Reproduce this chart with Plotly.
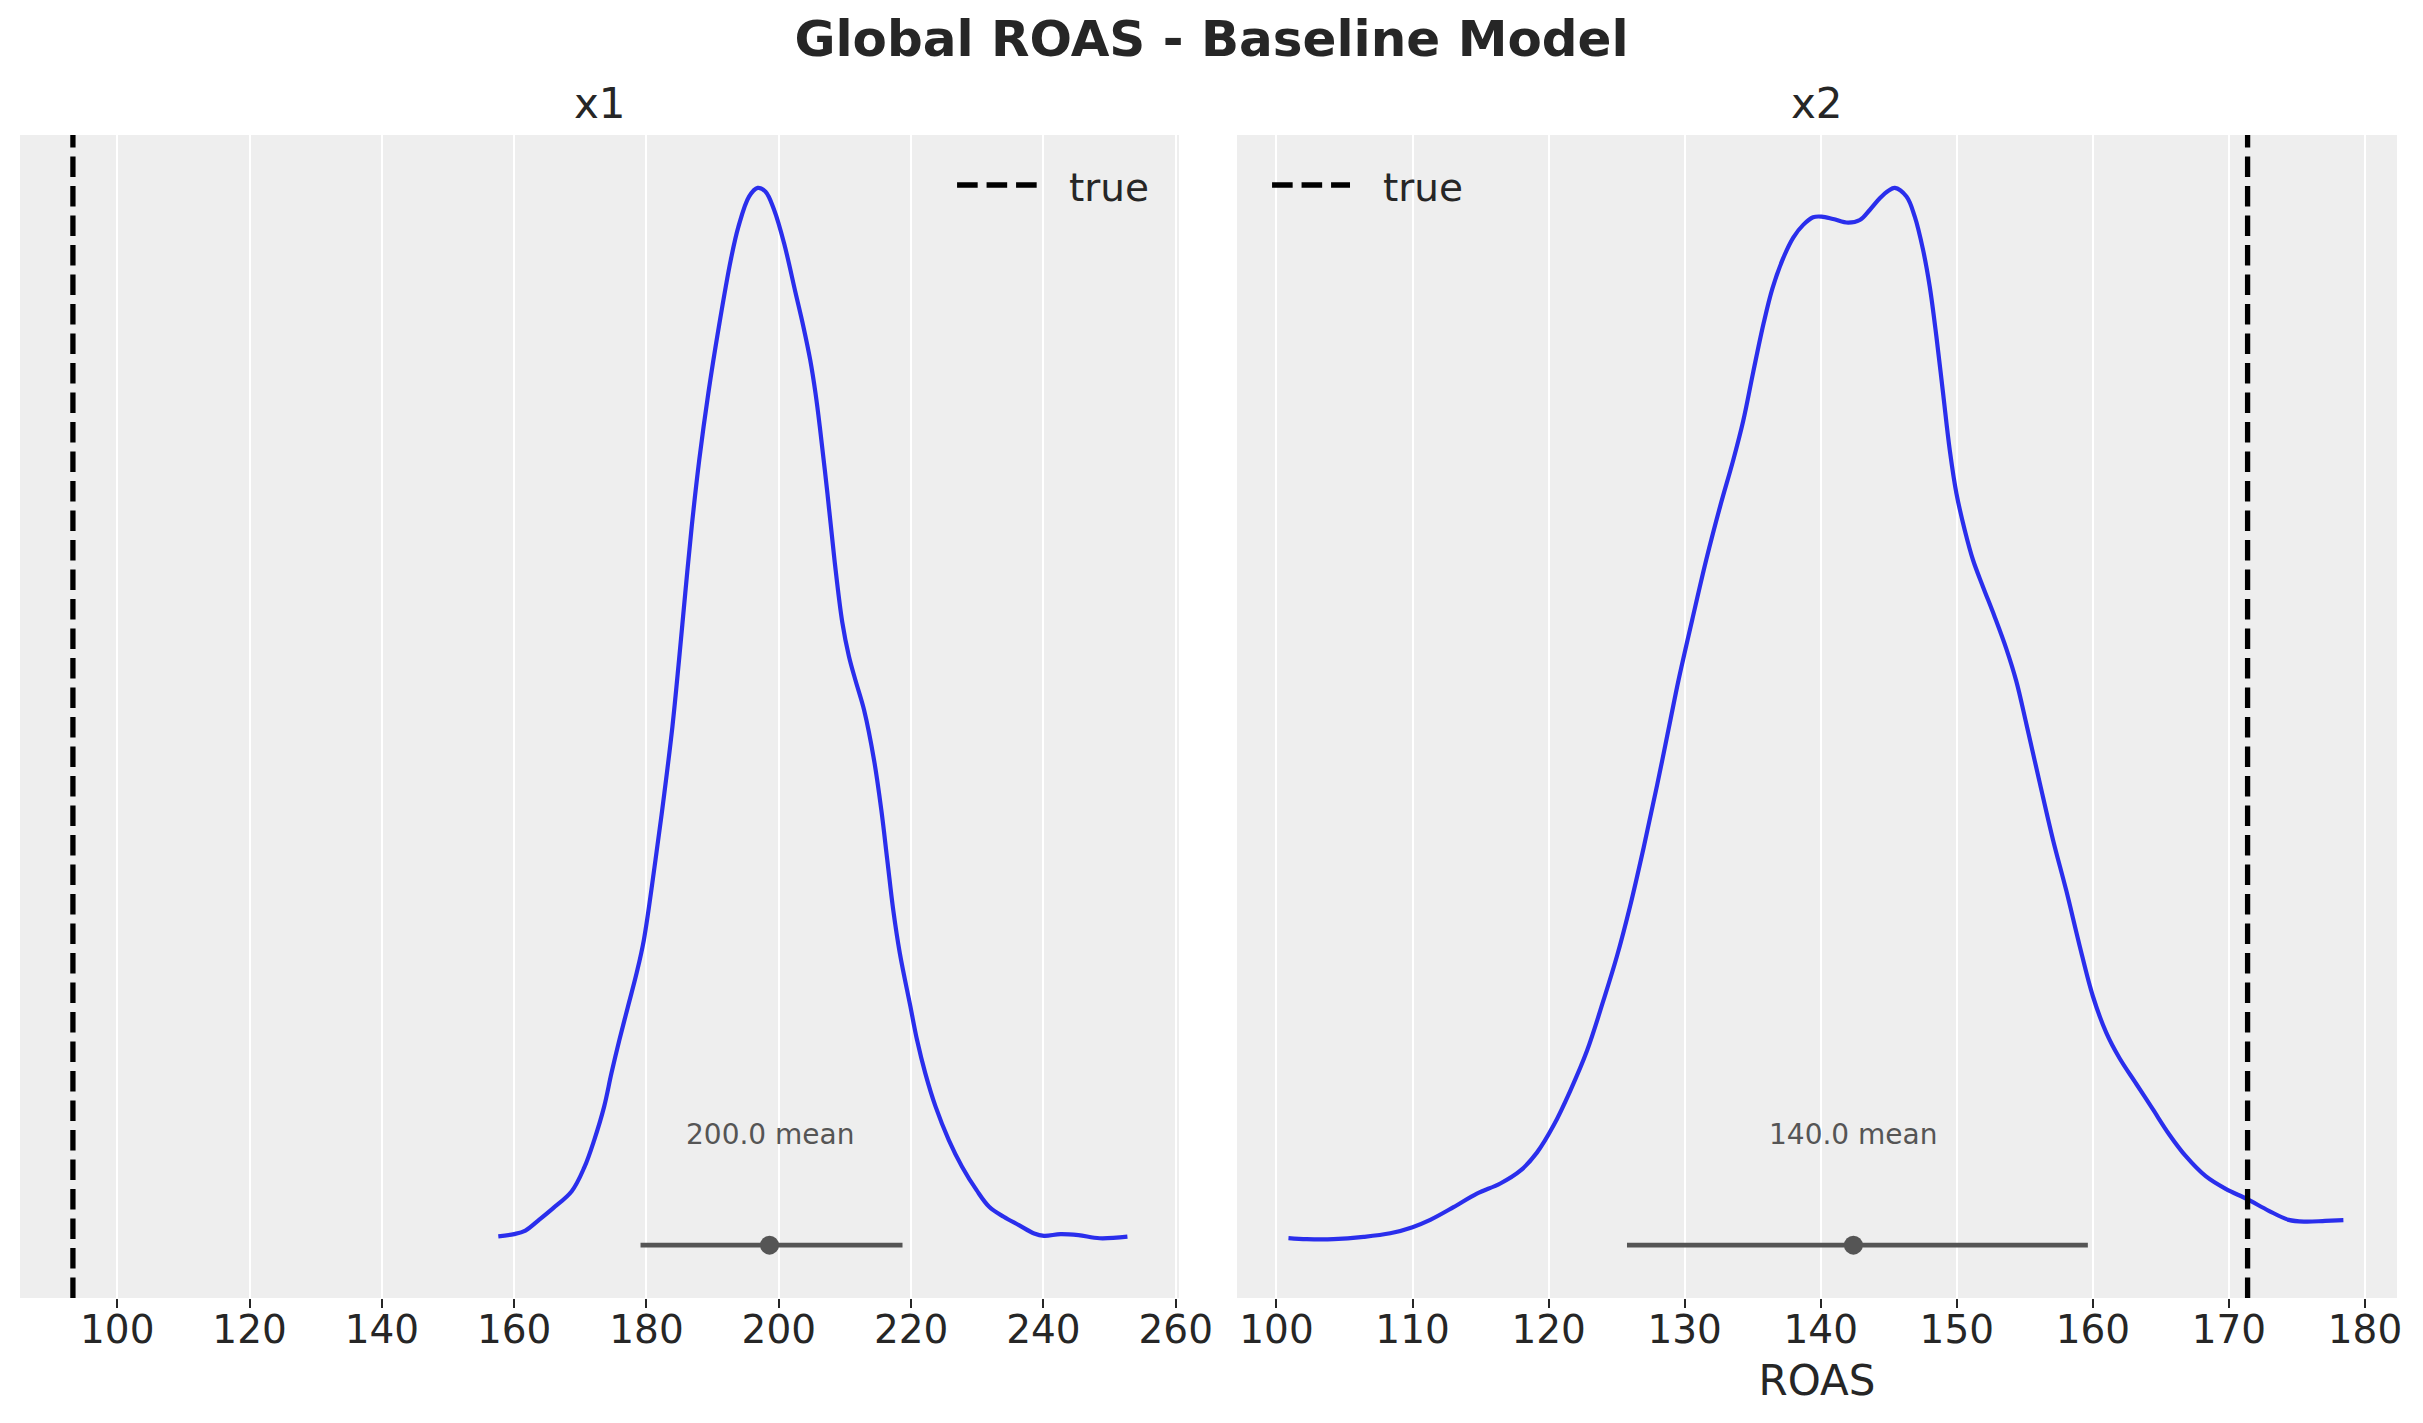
import plotly.graph_objects as go

# ---------------- data ----------------
panel_titles = ["x1", "x2"]

# KDE of x1 posterior (relative density, peak = 1)
x1_grid = [157.6, 160.0, 161.7, 163.8, 165.9, 168.7, 170.6, 172.1, 173.6, 174.7,
           175.9, 177.2, 178.5, 179.6, 181.36, 182.70, 183.92, 184.92, 185.86, 186.84,
           187.98, 189.35, 190.95, 192.75, 193.9, 195.5, 196.8, 198.0, 199.3, 200.8,
           202.55, 203.72, 204.75, 205.55, 206.2, 207.35, 208.42, 209.6, 210.6, 211.6,
           212.9, 214.4, 215.5, 216.4, 217.3, 218.3, 219.9, 220.9, 222.15, 223.7,
           225.7, 227.7, 229.9, 231.8, 234.0, 236.3, 238.6, 240.1, 242.6, 245.3,
           248.5, 252.7]
x1_density = [0.0083, 0.0104, 0.0138, 0.0241, 0.0350, 0.0510, 0.0735, 0.0994, 0.1310, 0.1625,
               0.1940, 0.2256, 0.2571, 0.2886, 0.3643, 0.4274, 0.4904, 0.5535, 0.6166, 0.6797,
               0.7428, 0.8059, 0.8690, 0.9321, 0.9633, 0.9917, 1.0000, 0.9964, 0.9791, 0.9476,
               0.9003, 0.8687, 0.8372, 0.8057, 0.7741, 0.7111, 0.6480, 0.5890, 0.5570, 0.5340,
               0.5060, 0.4588, 0.4115, 0.3643, 0.3170, 0.2760, 0.2256, 0.1940, 0.1625, 0.1310,
               0.0994, 0.0742, 0.0520, 0.0363, 0.0268, 0.0189, 0.0110, 0.0088, 0.0104, 0.0094,
               0.0065, 0.0080]

# KDE of x2 posterior (relative density, peak = 1)
x2_grid = [100.88, 102.23, 104.19, 106.40, 108.36, 110.00, 111.30, 113.01, 114.73, 116.45,
           117.92, 119.14, 120.37, 121.59, 122.82, 124.04, 125.02, 126.00, 126.99, 127.97,
           128.95, 129.55, 130.55, 131.58, 132.60, 133.57, 134.30, 135.04, 135.80, 136.45,
           137.24, 137.98, 138.71, 139.44, 140.06, 140.91, 142.01, 142.87, 143.60, 144.34,
           145.00, 145.44, 146.30, 146.91, 147.52, 148.01, 148.50, 148.99, 149.48, 149.97,
           150.58, 151.19, 151.92, 152.78, 153.64, 154.37, 155.12, 156.10, 157.07, 158.05,
           159.02, 160.00, 160.98, 161.95, 163.17, 164.39, 165.61, 166.83, 168.29, 169.76,
           171.34, 172.93, 174.39, 175.61, 177.07, 178.41]
x2_density = [0.0067, 0.0057, 0.0057, 0.0078, 0.0112, 0.0170, 0.0239, 0.0359, 0.0487, 0.0583,
              0.0704, 0.0875, 0.1133, 0.1460, 0.1838, 0.2319, 0.2732, 0.3213, 0.3764, 0.4348,
              0.4967, 0.5345, 0.5913, 0.6480, 0.6985, 0.7426, 0.7795, 0.8260, 0.8719, 0.9050,
              0.9335, 0.9530, 0.9650, 0.9722, 0.9728, 0.9706, 0.9671, 0.9696, 0.9791, 0.9901,
              0.9975, 1.0000, 0.9918, 0.9728, 0.9413, 0.9066, 0.8593, 0.8057, 0.7521, 0.7111,
              0.6764, 0.6480, 0.6228, 0.5944, 0.5640, 0.5335, 0.4925, 0.4370, 0.3833, 0.3351,
              0.2835, 0.2354, 0.2010, 0.1770, 0.1529, 0.1288, 0.1047, 0.0841, 0.0652, 0.0532,
              0.0435, 0.0325, 0.0239, 0.0222, 0.0229, 0.0236]

true_values = [93.3, 171.37]
hdi_x1 = [179.1, 218.7]
hdi_x2 = [125.76, 159.63]
point_estimates = [198.6, 142.4]
mean_labels = ["200.0 mean", "140.0 mean"]
x1_ticks = [100, 120, 140, 160, 180, 200, 220, 240, 260]
x2_ticks = [100, 110, 120, 130, 140, 150, 160, 170, 180]
x1_range = [85.3, 260.5]
x2_range = [97.1, 182.35]

# ---------------- styles ----------------
FONT = "DejaVu Sans"
KDE_COLOR = "#2a2eec"
GREY = "#555555"
TXT = "#262626"
DASH = "20.6px,8.9px"

fig = go.Figure()

grids = [x1_grid, x2_grid]
dens = [x1_density, x2_density]
hdis = [hdi_x1, hdi_x2]
for i in range(2):
    xa = "x" if i == 0 else "x2"
    ya = "y" if i == 0 else "y2"
    fig.add_trace(go.Scatter(x=grids[i], y=dens[i], mode="lines", xaxis=xa, yaxis=ya,
                             line=dict(color=KDE_COLOR, width=4.2, shape="spline", smoothing=1.0),
                             showlegend=False, hoverinfo="skip"))
    fig.add_trace(go.Scatter(x=hdis[i], y=[0, 0], mode="lines", xaxis=xa, yaxis=ya,
                             line=dict(color=GREY, width=4.6), showlegend=False, hoverinfo="skip"))
    fig.add_trace(go.Scatter(x=[point_estimates[i]], y=[0], mode="markers", xaxis=xa, yaxis=ya,
                             marker=dict(color=GREY, size=19, line=dict(width=0)),
                             showlegend=False, hoverinfo="skip"))
    # true value vertical line
    fig.add_shape(type="line", xref=xa, yref=ya + " domain", x0=true_values[i], x1=true_values[i],
                  y0=0, y1=1, line=dict(color="black", width=5.3, dash=DASH))
    # mean label
    fig.add_annotation(x=point_estimates[i], y=0.105, xref=xa, yref=ya, text=mean_labels[i],
                       showarrow=False, font=dict(family=FONT, size=28, color=GREY),
                       xanchor="center", yanchor="middle")
    # panel title
    fig.add_annotation(x=0.5, y=1.0275, xref=xa + " domain", yref="paper", text=panel_titles[i],
                       showarrow=False, font=dict(family=FONT, size=42, color=TXT),
                       xanchor="center", yanchor="middle")

# legends (one per panel)
leg = [(0.8085, 0.8775, 0.9034), (0.0302, 0.0974, 0.1241)]
for i, (a, b, t) in enumerate(leg):
    xa = "x" if i == 0 else "x2"
    ya = "y" if i == 0 else "y2"
    fig.add_shape(type="line", xref=xa + " domain", yref=ya + " domain", x0=a, x1=b,
                  y0=0.957, y1=0.957, line=dict(color="black", width=5.3, dash=DASH))
    fig.add_annotation(x=t, y=0.955, xref=xa + " domain", yref=ya + " domain", text="true",
                       showarrow=False, font=dict(family=FONT, size=39, color=TXT),
                       xanchor="left", yanchor="middle")

xcommon = dict(showgrid=True, gridcolor="white", gridwidth=2.3, zeroline=False, showline=False,
               ticks="outside", ticklen=9, tickwidth=2.4, tickcolor=TXT, automargin=False,
               ticklabelstandoff=-12,
               tickfont=dict(family=FONT, size=39, color=TXT))
ycommon = dict(range=[-0.05, 1.05], showgrid=False, zeroline=False, showticklabels=False,
               ticks="", showline=False, automargin=False)

# the page body adds an 8px margin, so the figure is 16px smaller than the window
W, H = 2407, 1407
fig.update_layout(
    width=W, height=H,
    margin=dict(l=12, r=18, t=127, b=117),
    paper_bgcolor="white", plot_bgcolor="#eeeeee",
    font=dict(family=FONT, color=TXT),
    title=dict(text="<b>Global ROAS - Baseline Model</b>", x=0.5, xref="container",
               y=1 - 30 / H, yref="container", yanchor="middle", xanchor="center",
               font=dict(family=FONT, size=50, color=TXT)),
    xaxis=dict(domain=[0, 0.4876], range=x1_range, tickvals=x1_ticks, anchor="y", **xcommon),
    xaxis2=dict(domain=[0.5120, 1], range=x2_range, tickvals=x2_ticks, anchor="y2",
                title=dict(text="ROAS", font=dict(family=FONT, size=42, color=TXT), standoff=14),
                **xcommon),
    yaxis=dict(domain=[0, 1], anchor="x", **ycommon),
    yaxis2=dict(domain=[0, 1], anchor="x2", **ycommon),
    showlegend=False,
)

fig.write_html("out.html")
